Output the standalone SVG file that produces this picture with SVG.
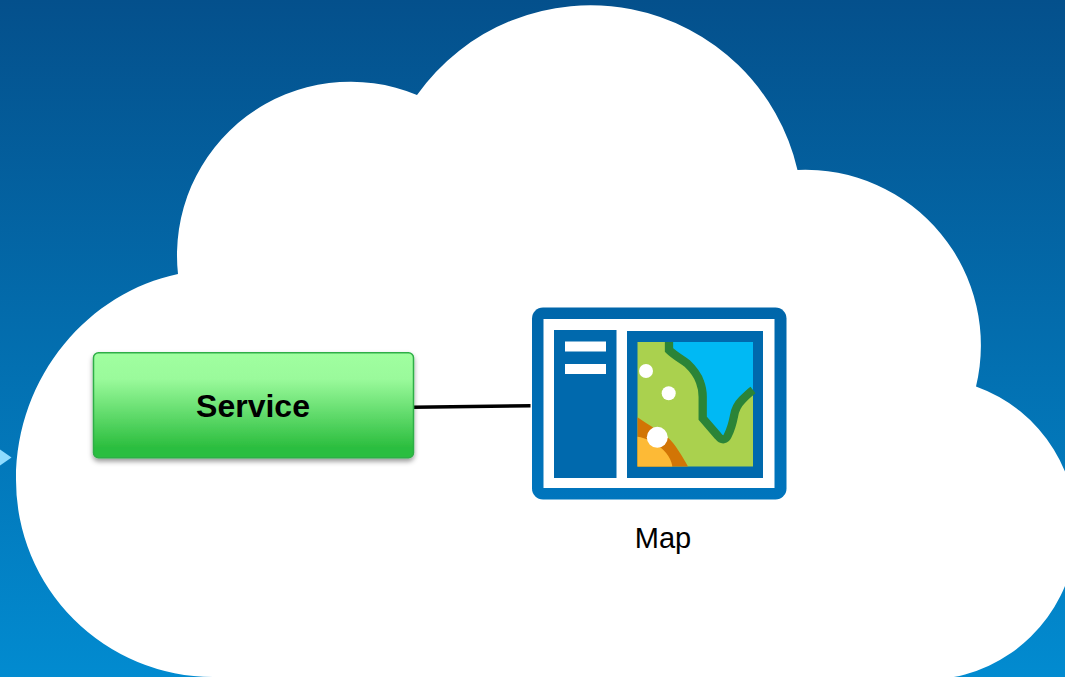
<svg xmlns="http://www.w3.org/2000/svg" width="1065" height="677" viewBox="0 0 1065 677">
<style>
.t{font-family:"Liberation Sans",Arial,sans-serif;fill:#000}
.b{fill:#0069ad}
.w{fill:#fff}
</style>
<defs>
<linearGradient id="bg" x1="0" y1="0" x2="0" y2="1"><stop offset="0" stop-color="#04508c"/><stop offset="1" stop-color="#028bd0"/></linearGradient>
<linearGradient id="gr" x1="0" y1="0" x2="0" y2="1"><stop offset="0" stop-color="#a0ffa0"/><stop offset="0.25" stop-color="#9afa9b"/><stop offset="0.9" stop-color="#2cbe3f"/><stop offset="1" stop-color="#2cbe3f"/></linearGradient>
<linearGradient id="ic" x1="0" y1="0" x2="0" y2="1"><stop offset="0" stop-color="#0066aa"/><stop offset="1" stop-color="#0075bd"/></linearGradient>
<filter id="sh" x="-5%" y="-10%" width="110%" height="125%"><feDropShadow dx="0" dy="3" stdDeviation="2.500" flood-color="#000" flood-opacity="0.4"/></filter>
</defs>
<rect width="1065" height="677" fill="url(#bg)"/>
<path id="cloud" class="w" d="M178 274A173.500 173.500 0 0 1 417 95A212.500 212.500 0 0 1 797.500 170A175.500 175.500 0 0 1 976 386.500A151 151 0 0 1 940 679L213 679V677A197 197 0 0 1 16 480C16 375 90 292 178 274Z"/>
<path id="arrow-stub" d="M0 449.500L11.500 457.500L0 465.500Z" fill="#8fdcff"/>
<g id="connectors"><line x1="413" y1="407.300" x2="530.500" y2="405.700" stroke="#000" stroke-width="3.400"/></g>
<g id="service">
<rect x="93.500" y="352.800" width="320" height="105" rx="5" fill="url(#gr)" stroke="#2fae47" stroke-width="1.500" filter="url(#sh)"/>
<text class="t" x="253" y="417" font-size="32" font-weight="bold" text-anchor="middle">Service</text>
</g>
<g id="map">
<rect x="532" y="307.500" width="254.500" height="192" rx="11" fill="url(#ic)"/>
<rect x="543.500" y="319" width="231" height="169" class="w"/>
<rect x="554" y="330" width="62.500" height="148" class="b"/>
<rect x="565" y="341.500" width="41" height="10" class="w"/>
<rect x="565" y="364" width="41" height="10" class="w"/>
<rect x="627" y="331" width="136" height="147" class="b"/>
<rect x="637.500" y="342" width="115.500" height="124.500" fill="#aad14e"/>
<path d="M669 342V350C674 355 681 359 687 363.300C693 369 698 376 700 382C702 387 702.700 391 702.700 397V418.300L718 436C722 441 726 440 728 435C731 429 733 421 734 416C735 409 737 405 742 400C745 397 749 393 753 390V342Z" fill="#00b9f4"/>
<path d="M669 342V350C674 355 681 359 687 363.300C693 369 698 376 700 382C702 387 702.700 391 702.700 397V418.300L718 436C722 441 726 440 728 435C731 429 733 421 734 416C735 409 737 405 742 400C745 397 749 393 753 390" fill="none" stroke="#2b8437" stroke-width="8.300"/>
<path d="M637.500 417.300C648 425 658 430 667 436.700C672 441 675 445 678 450C682 456 685 461 688 466.500H637.500Z" fill="#d27505"/>
<path d="M637.500 436.700C646 438 654 442 660 447C665 451 668 455 670 459C671 461 672 464 672.300 466.500H637.500Z" fill="#fdba36"/>
<circle cx="646" cy="371" r="7" class="w"/>
<circle cx="668.700" cy="393.300" r="7" class="w"/>
<circle cx="657.300" cy="437.300" r="10.500" class="w"/>
<text class="t" x="663" y="548" font-size="29" text-anchor="middle">Map</text>
</g>
</svg>
